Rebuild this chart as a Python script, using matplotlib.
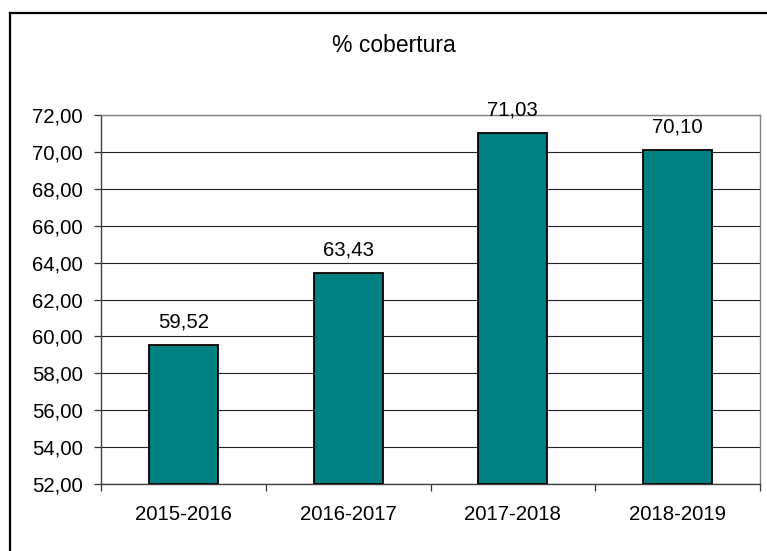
import matplotlib
matplotlib.use("Agg")
import matplotlib.pyplot as plt
from matplotlib.lines import Line2D
import numpy as np

categories = ["2015-2016", "2016-2017", "2017-2018", "2018-2019"]
values = [59.52, 63.43, 71.03, 70.10]
value_labels = ["59,52", "63,43", "71,03", "70,10"]
yticks = [52, 54, 56, 58, 60, 62, 64, 66, 68, 70, 72]
ytick_labels = ["52,00", "54,00", "56,00", "58,00", "60,00", "62,00",
                "64,00", "66,00", "68,00", "70,00", "72,00"]
title = "% cobertura"

plt.rcParams['font.family'] = ['Liberation Sans', 'DejaVu Sans']

W, H = 767, 551
fig = plt.figure(figsize=(W / 100, H / 100), dpi=100)

# outer frame (only top and left visible)
fig.add_artist(Line2D([9.5 / W, 9.5 / W], [0, 1 - 12.5 / H], transform=fig.transFigure,
                      color='black', lw=1.6, solid_capstyle='projecting'))
fig.add_artist(Line2D([9.5 / W, 1.0], [1 - 12.5 / H, 1 - 12.5 / H], transform=fig.transFigure,
                      color='black', lw=1.6, solid_capstyle='projecting'))

left, right, top, bottom = 101, 760, 115, 484
ax = fig.add_axes([left / W, 1 - bottom / H, (right - left) / W, (bottom - top) / H])

x = np.arange(len(categories))
bars = ax.bar(x, [v - 52 for v in values], bottom=52, width=0.42,
              color='#008080', edgecolor='black', linewidth=1.3, zorder=3)

ax.set_xlim(-0.5, len(categories) - 0.5)
ax.set_ylim(52, 72)
ax.set_yticks(yticks)
ax.set_yticklabels(ytick_labels)
ax.set_xticks(x)
ax.set_xticklabels(categories)
ax.set_xticks(np.arange(-0.5, len(categories)), minor=True)

ax.tick_params(axis='x', which='major', length=0, pad=15, labelsize=14.7)
ax.tick_params(axis='x', which='minor', length=5, width=0.9, color='#333333', direction='out')
ax.tick_params(axis='y', length=5, width=0.9, color='#333333', pad=8, labelsize=14.7)

ax.yaxis.grid(True, color='#222222', linewidth=0.8, zorder=0)
ax.set_axisbelow(True)

ax.spines['left'].set_color('#404040')
ax.spines['bottom'].set_color('#404040')
ax.spines['top'].set_color('#808080')
ax.spines['right'].set_color('#808080')
for s in ax.spines.values():
    s.set_linewidth(1.0)

for xi, v, lab in zip(x, values, value_labels):
    ax.annotate(lab, (xi, v), xytext=(0, 12.5), textcoords='offset points',
                ha='center', va='baseline', fontsize=14.7, clip_on=False)

fig.text(394 / W, 1 - 46 / H, title, ha='center', va='center', fontsize=16.5)

fig.savefig("out.png", dpi=100)
